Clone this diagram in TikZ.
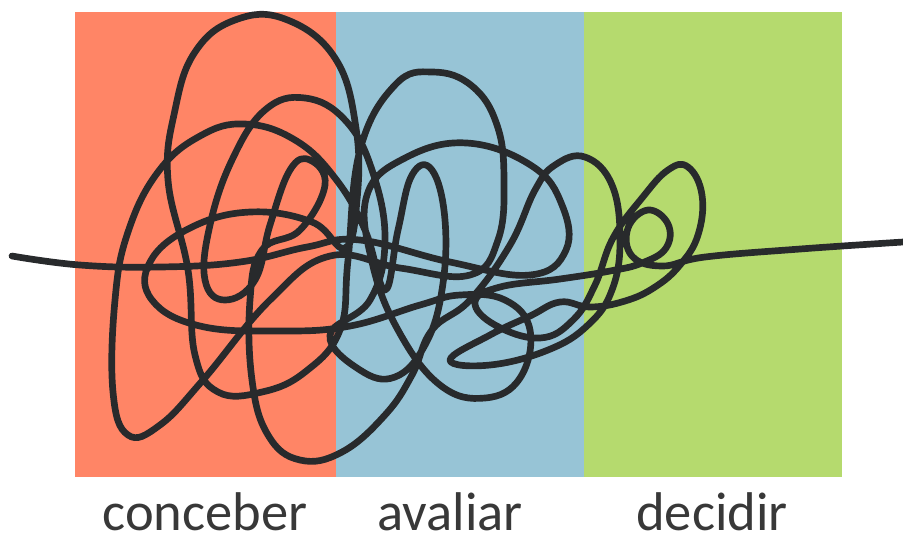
\documentclass[tikz,border=0pt]{standalone}
\usepackage{fontspec}
\setmainfont{Carlito}

\definecolor{phasered}{RGB}{255,133,102}
\definecolor{phaseblue}{RGB}{151,196,214}
\definecolor{phasegreen}{RGB}{181,218,110}
\definecolor{inkgray}{RGB}{40,42,44}

\begin{document}
\begin{tikzpicture}[x=0.01cm, y=-0.01cm,
  phase/.style={rectangle, inner sep=0pt, minimum height=4.65cm, anchor=north west},
  phaselabel/.style={anchor=base, inner sep=0pt, font=\fontsize{15.5}{18}\selectfont, text=black!78},
  scribble/.style={draw=inkgray, line width=1.9pt, line cap=round, line join=round}]
\useasboundingbox (0,0) rectangle (903,541);
% three stages side by side
\node[phase, fill=phasered, minimum width=2.61cm] (conceber) at (74,11) {};
\node[phase, fill=phaseblue, minimum width=2.48cm] (avaliar) at (335,11) {};
\node[phase, fill=phasegreen, minimum width=2.58cm] (decidir) at (583,11) {};
% stage names
\node[phaselabel] (conceber-text) at (205,530) {conceber};
\node[phaselabel] (avaliar-text) at (450,530) {avaliar};
\node[phaselabel] (decidir-text) at (712,530) {decidir};
% the tangled line, left to right
\draw[scribble] plot[smooth, tension=0.7] coordinates {
  (12,256) (80,265) (160,267) (240,262) (307,247) (360,240)
  (450,262) (530,275) (566,250) (562,205) (532,166) (467,143) (405,158) (367,195)
  (372,262) (398,330) (440,385) (485,398) (520,378) (530,330) (505,300) (460,295) (420,305)
  (350,326) (280,331) (200,326) (152,300) (150,262) (190,228) (250,212) (312,222) (345,248)
  (357,200) (356,128) (335,58) (285,19) (235,20) (195,52) (175,110) (168,180) (188,270)
  (195,355) (218,392) (262,392) (305,372)
  (340,330) (348,260) (360,150) (395,85) (433,72) (472,86) (497,125) (504,180) (498,240)
  (470,275) (400,268) (330,256)
  (270,300) (203,380) (160,425) (128,435) (113,392) (115,300) (128,232) (158,172) (200,136)
  (245,124) (295,140) (335,178) (365,230) (385,290)
  (398,230) (412,175) (432,170) (445,220) (442,290) (425,345) (395,377) (360,370) (330,335)
  (370,300) (385,240) (372,170) (345,120) (305,98) (265,110) (232,160) (210,225) (205,280)
  (225,300) (255,280) (270,225) (290,170) (310,160) (325,185) (300,230) (262,250)
  (250,300) (252,380) (268,435) (300,460) (342,452) (385,415) (412,375) (432,330)
  (470,300) (510,245) (535,190) (555,165) (585,157) (612,185) (620,240) (612,290)
  (588,325) (548,350) (490,365) (450,360)
  (490,335) (530,316) (560,302) (590,307) (625,301) (655,287) (680,265)
  (698,235) (702,195) (688,167) (668,170) (642,198) (613,238) (595,285) (573,320)
  (540,338) (495,325) (475,302) (500,287) (560,279) (610,271) (642,263) (666,248)
  (668,224) (648,210) (628,228) (632,256) (662,266) (705,257) (800,249) (903,242)
};
\end{tikzpicture}
\end{document}
